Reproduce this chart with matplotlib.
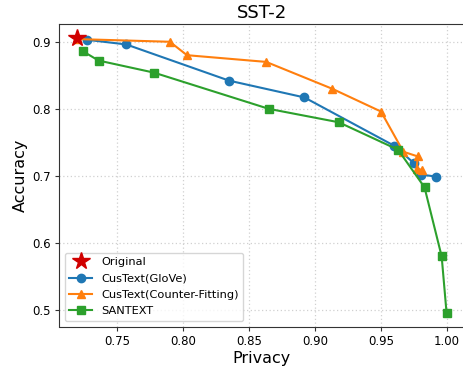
import matplotlib
matplotlib.use("Agg")
import matplotlib.pyplot as plt

# values
original_privacy = [0.720]
original_acc = [0.906]

glove_privacy = [0.727, 0.757, 0.835, 0.892, 0.960, 0.975, 0.980, 0.992]
glove_acc = [0.903, 0.896, 0.842, 0.817, 0.745, 0.719, 0.702, 0.699]

cf_privacy = [0.720, 0.790, 0.803, 0.863, 0.913, 0.950, 0.967, 0.978, 0.977, 0.981]
cf_acc = [0.904, 0.900, 0.880, 0.870, 0.830, 0.796, 0.736, 0.729, 0.711, 0.709]

santext_privacy = [0.724, 0.736, 0.778, 0.865, 0.918, 0.963, 0.983, 0.996, 0.9997]
santext_acc = [0.886, 0.872, 0.854, 0.800, 0.780, 0.739, 0.683, 0.580, 0.496]

fig = plt.figure(figsize=(4.63, 3.70), dpi=100)
ax = fig.add_axes([59 / 463, 43.5 / 370, 406 / 463, 302.5 / 370])

ax.plot(original_privacy, original_acc, linestyle='none', marker='*',
        color='#d00000', markersize=13, label='Original', zorder=4)
ax.plot(glove_privacy, glove_acc, marker='o', color='#1f77b4',
        markersize=6, linewidth=1.5, label='CusText(GloVe)')
ax.plot(cf_privacy, cf_acc, marker='^', color='#ff7f0e',
        markersize=6, linewidth=1.5, label='CusText(Counter-Fitting)')
ax.plot(santext_privacy, santext_acc, marker='s', color='#2ca02c',
        markersize=6, linewidth=1.5, label='SANTEXT')

ax.set_xticks([0.75, 0.80, 0.85, 0.90, 0.95, 1.00])
ax.set_yticks([0.5, 0.6, 0.7, 0.8, 0.9])
ax.tick_params(labelsize=8.5, color='#333333', length=3, pad=3)
ax.grid(True, linestyle=(0, (1, 2)), color='#d0d0d0', linewidth=0.9)
for s in ax.spines.values():
    s.set_color('#333333')

ax.set_xlabel('Privacy', fontsize=11.5, labelpad=2)
ax.set_ylabel('Accuracy', fontsize=11.5, labelpad=3)
ax.set_title('SST-2', fontsize=13, pad=4)
ax.legend(loc='lower left', fontsize=8.2, framealpha=0.8, labelspacing=0.55)

fig.savefig('out.png', dpi=100)
